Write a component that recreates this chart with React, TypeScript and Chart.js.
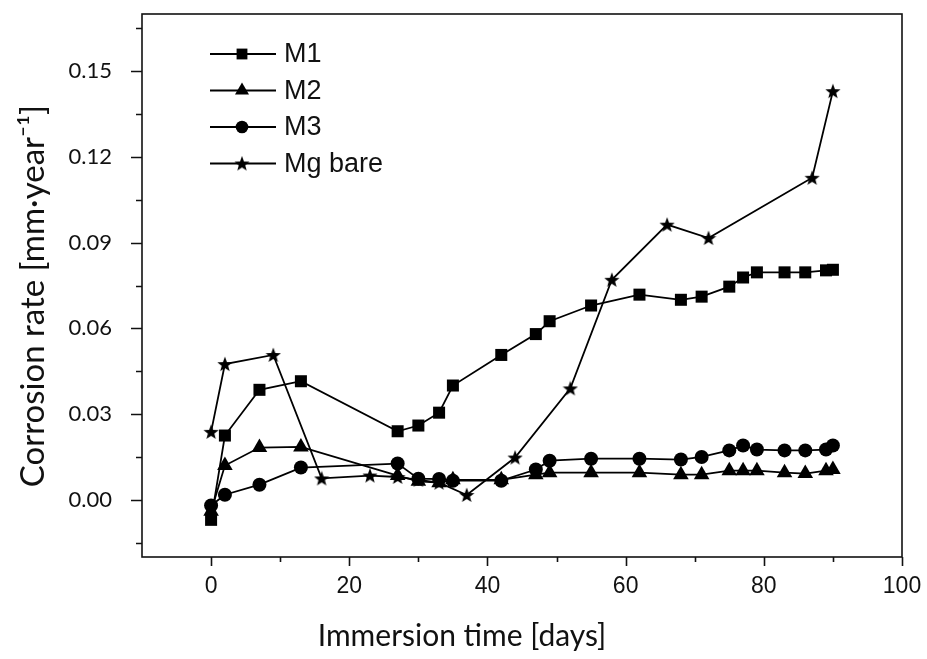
import React, { useEffect, useRef } from 'react';
import { Chart, registerables } from 'chart.js';

Chart.register(...registerables);

// ---- data ----
const M1_DAYS = [0, 2, 7, 13, 27, 30, 33, 35, 42, 47, 49, 55, 62, 68, 71, 75, 77, 79, 83, 86, 89, 90];
const M1_RATE = [-0.007, 0.0225, 0.0385, 0.0415, 0.024, 0.026, 0.0305, 0.040, 0.0507, 0.058, 0.0625, 0.068, 0.0718, 0.070, 0.0711, 0.0746, 0.0778, 0.0796, 0.0796, 0.0796, 0.0803, 0.0805];

const M2_DAYS = [0, 2, 7, 13, 27, 30, 33, 35, 42, 47, 49, 55, 62, 68, 71, 75, 77, 79, 83, 86, 89, 90];
const M2_RATE = [-0.004, 0.012, 0.0183, 0.0185, 0.0085, 0.0065, 0.006, 0.007, 0.007, 0.0088, 0.0095, 0.0095, 0.0095, 0.0088, 0.0088, 0.0102, 0.0102, 0.0102, 0.0095, 0.0092, 0.0102, 0.0106];

const M3_DAYS = [0, 2, 7, 13, 27, 30, 33, 35, 42, 47, 49, 55, 62, 68, 71, 75, 77, 79, 83, 86, 89, 90];
const M3_RATE = [-0.002, 0.0018, 0.0053, 0.0113, 0.0127, 0.0074, 0.0073, 0.0067, 0.0067, 0.0106, 0.0137, 0.0144, 0.0144, 0.0141, 0.015, 0.0173, 0.019, 0.0176, 0.0173, 0.0173, 0.0176, 0.019];

const MG_DAYS = [0, 2, 9, 16, 23, 27, 30, 33, 37, 44, 52, 58, 66, 72, 87, 90];
const MG_RATE = [0.0238, 0.0475, 0.0507, 0.0075, 0.0085, 0.008, 0.007, 0.006, 0.0017, 0.0148, 0.039, 0.077, 0.0963, 0.0916, 0.1127, 0.143];

const SERIES_LABELS = ['M1', 'M2', 'M3', 'Mg bare'];

const X_MAJOR_TICKS = [0, 20, 40, 60, 80, 100];
const X_MINOR_TICKS = [10, 30, 50, 70, 90];
const Y_MAJOR_TICKS = [0, 0.03, 0.06, 0.09, 0.12, 0.15];
const Y_MINOR_TICKS = [-0.015, 0.015, 0.045, 0.075, 0.105, 0.135, 0.165];

const X_TITLE = 'Immersion time [days]';
const Y_TITLE = 'Corrosion rate [mm·year⁻¹]';

function toPoints(xs: number[], ys: number[]) {
  return xs.map((x, i) => ({ x, y: ys[i] }));
}

function makeStar(size: number): HTMLCanvasElement {
  const c = document.createElement('canvas');
  c.width = size;
  c.height = size;
  const ctx = c.getContext('2d')!;
  const cx = size / 2;
  const cy = size / 2 + 0.6;
  const R = size / 2;
  const r = R * 0.42;
  ctx.beginPath();
  for (let i = 0; i < 10; i++) {
    const a = -Math.PI / 2 + (i * Math.PI) / 5;
    const rad = i % 2 === 0 ? R : r;
    const px = cx + rad * Math.cos(a);
    const py = cy + rad * Math.sin(a);
    if (i === 0) ctx.moveTo(px, py);
    else ctx.lineTo(px, py);
  }
  ctx.closePath();
  ctx.fillStyle = '#000';
  ctx.fill();
  return c;
}

function drawMarker(ctx: CanvasRenderingContext2D, style: any, x: number, y: number, r: number) {
  ctx.save();
  ctx.fillStyle = '#000';
  ctx.beginPath();
  if (style === 'rect') {
    const s = Math.SQRT1_2 * r;
    ctx.rect(x - s, y - s, 2 * s, 2 * s);
    ctx.fill();
  } else if (style === 'triangle') {
    ctx.moveTo(x, y - r);
    ctx.lineTo(x + r * 0.866, y + r * 0.5);
    ctx.lineTo(x - r * 0.866, y + r * 0.5);
    ctx.closePath();
    ctx.fill();
  } else if (style === 'circle') {
    ctx.arc(x, y, r, 0, Math.PI * 2);
    ctx.fill();
  } else if (style instanceof HTMLCanvasElement) {
    ctx.drawImage(style, x - style.width / 2, y - style.height / 2);
  }
  ctx.restore();
}

function clearPadding(s: any) {
  s.paddingTop = 0;
  s.paddingBottom = 0;
  s.paddingLeft = 0;
  s.paddingRight = 0;
}

export default function App() {
  const ref = useRef<HTMLCanvasElement | null>(null);

  useEffect(() => {
    document.body.style.margin = '0';
    const canvas = ref.current;
    if (!canvas) return;
    const star = makeStar(16);
    const styles: any[] = ['rect', 'triangle', 'circle', star];
    const radii = [8.5, 9, 7, 8];

    const frameAndTicks = {
      id: 'frameAndTicks',
      afterDatasetsDraw(chart: any) {
        const { ctx, chartArea: a, scales } = chart;
        const xs = scales.x;
        const ys = scales.y;
        ctx.save();
        ctx.strokeStyle = '#111';
        ctx.lineWidth = 1.6;
        ctx.strokeRect(a.left, a.top, a.right - a.left, a.bottom - a.top);
        ctx.beginPath();
        Y_MAJOR_TICKS.forEach((v) => {
          const p = Math.round(ys.getPixelForValue(v)) + 0.5;
          ctx.moveTo(a.left - 11, p);
          ctx.lineTo(a.left, p);
        });
        Y_MINOR_TICKS.forEach((v) => {
          const p = Math.round(ys.getPixelForValue(v)) + 0.5;
          ctx.moveTo(a.left - 6, p);
          ctx.lineTo(a.left, p);
        });
        X_MAJOR_TICKS.forEach((v) => {
          const p = Math.round(xs.getPixelForValue(v)) + 0.5;
          ctx.moveTo(p, a.bottom);
          ctx.lineTo(p, a.bottom + 9);
        });
        X_MINOR_TICKS.forEach((v) => {
          const p = Math.round(xs.getPixelForValue(v)) + 0.5;
          ctx.moveTo(p, a.bottom);
          ctx.lineTo(p, a.bottom + 5);
        });
        ctx.stroke();

        // legend
        chart.data.datasets.forEach((ds: any, i: number) => {
          const y = 54 + i * 36.5;
          ctx.strokeStyle = '#000';
          ctx.lineWidth = 2;
          ctx.beginPath();
          ctx.moveTo(210, y);
          ctx.lineTo(276, y);
          ctx.stroke();
          drawMarker(ctx, styles[i], 242, y, radii[i] * 0.9);
          ctx.fillStyle = '#111';
          ctx.font = '27px "Liberation Sans", Arial, sans-serif';
          ctx.textAlign = 'left';
          ctx.textBaseline = 'middle';
          ctx.fillText(ds.label, 284, y + 1);
        });

        // axis titles
        ctx.fillStyle = '#111';
        ctx.font = '30px Lato, "Open Sans", sans-serif';
        ctx.textAlign = 'center';
        ctx.textBaseline = 'middle';
        ctx.fillText(X_TITLE, 462, 636);
        ctx.save();
        ctx.translate(33, 296);
        ctx.rotate(-Math.PI / 2);
        ctx.font = '33px Lato, "Open Sans", sans-serif';
        ctx.fillText(Y_TITLE, 0, 0);
        ctx.restore();
        ctx.restore();
      },
    };

    const mk = (i: number, xs: number[], ysv: number[]) => ({
      label: SERIES_LABELS[i],
      data: toPoints(xs, ysv),
      borderColor: '#000',
      backgroundColor: '#000',
      borderWidth: 1.8,
      pointStyle: styles[i],
      pointRadius: radii[i],
      pointBackgroundColor: '#000',
      pointBorderColor: '#000',
      pointBorderWidth: 0,
      tension: 0,
      fill: false,
    });

    const chart = new Chart(canvas, {
      type: 'line',
      data: {
        datasets: [
          mk(0, M1_DAYS, M1_RATE),
          mk(1, M2_DAYS, M2_RATE),
          mk(2, M3_DAYS, M3_RATE),
          mk(3, MG_DAYS, MG_RATE),
        ],
      },
      options: {
        animation: false,
        responsive: true,
        maintainAspectRatio: false,
        layout: { padding: { top: 14, right: 25, left: 0, bottom: 0 } },
        plugins: {
          legend: { display: false },
          tooltip: { enabled: false },
        },
        scales: {
          x: {
            type: 'linear',
            min: -10,
            max: 100,
            afterBuildTicks: (s: any) => {
              s.ticks = X_MAJOR_TICKS.map((v) => ({ value: v }));
            },
            afterFit: (s: any) => {
              s.height = 102;
              clearPadding(s);
            },
            grid: { display: false, drawTicks: false },
            border: { display: false },
            ticks: {
              color: '#111',
              padding: 16,
              maxRotation: 0,
              font: { family: '"Liberation Sans", Arial, sans-serif', size: 23 },
              callback: (v: any) => String(v),
            },
          },
          y: {
            type: 'linear',
            min: -0.02,
            max: 0.17,
            afterBuildTicks: (s: any) => {
              s.ticks = Y_MAJOR_TICKS.map((v) => ({ value: v }));
            },
            afterFit: (s: any) => {
              s.width = 142;
              clearPadding(s);
            },
            grid: { display: false, drawTicks: false },
            border: { display: false },
            ticks: {
              color: '#111',
              padding: 30,
              font: { family: 'Lato, "Open Sans", sans-serif', size: 22 },
              callback: (v: any) => Number(v).toFixed(2),
            },
          },
        },
      },
      plugins: [frameAndTicks],
    } as any);

    return () => chart.destroy();
  }, []);

  return (
    <div style={{ width: 927, height: 659, position: 'relative', background: '#fff' }}>
      <canvas ref={ref} />
    </div>
  );
}
